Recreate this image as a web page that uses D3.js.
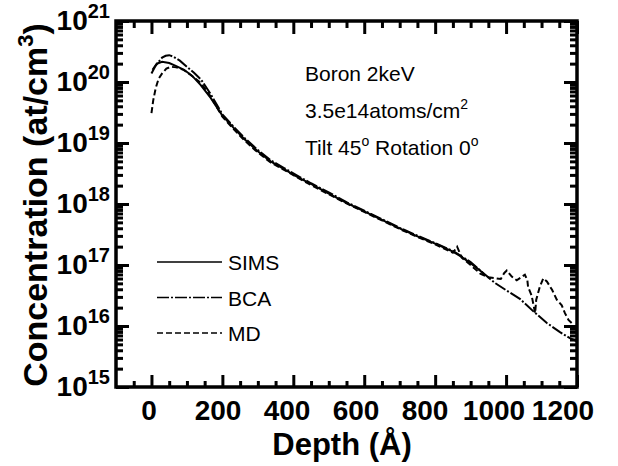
<!DOCTYPE html>
<html lang="en">
<head>
<meta charset="UTF-8">
<title>boron profile</title>
<script src="https://d3js.org/d3.v7.min.js"></script>
<style>
    body { margin: 0; background: #fff; }
    text { font-family: "Liberation Sans", Arial, sans-serif; fill: #000; }
    .bold { font-weight: bold; }
</style>
</head>
<body>
<svg id="chart" width="618" height="466"></svg>
<script>
    // depth (Angstrom) and log10 concentration
    const simsDepth = [3, 15, 30, 50, 70, 92, 115, 139, 167, 200, 233, 261, 299, 336, 374, 416, 450, 500, 550, 600, 650, 700, 750, 800, 850, 870, 900, 937];
    const simsLog   = [20.2, 20.3, 20.33, 20.31, 20.26, 20.2, 20.1, 19.95, 19.74, 19.45, 19.24, 19.07, 18.87, 18.7, 18.57, 18.43, 18.33, 18.17, 18.02, 17.88, 17.74, 17.6, 17.47, 17.35, 17.22, 17.15, 17.03, 16.86];

    const bcaDepth = [0, 10, 20, 30, 40, 50, 60, 80, 100, 120, 140, 167, 200, 233, 261, 299, 336, 374, 416, 450, 500, 550, 600, 650, 700, 750, 800, 850, 900, 937, 970, 1002, 1040, 1077, 1115, 1152, 1180, 1200];
    const bcaLog   = [20.14, 20.25, 20.33, 20.4, 20.43, 20.44, 20.42, 20.35, 20.25, 20.15, 20.04, 19.8, 19.47, 19.26, 19.09, 18.89, 18.72, 18.59, 18.45, 18.34, 18.19, 18.03, 17.89, 17.75, 17.61, 17.48, 17.36, 17.23, 17.05, 16.86, 16.7, 16.58, 16.44, 16.24, 16.05, 15.9, 15.8, 15.75];

    const mdDepth = [0, 5, 12, 20, 30, 42, 55, 70, 90, 110, 140, 167, 200, 233, 261, 299, 336, 374, 416, 450, 500, 550, 600, 650, 700, 750, 800, 850, 862, 875, 900, 927, 950, 985, 995, 1002, 1016, 1030, 1053, 1060, 1062, 1072, 1082, 1085, 1095, 1105, 1115, 1130, 1143, 1157, 1166, 1176, 1185];
    const mdLog   = [19.49, 19.7, 19.9, 20.05, 20.14, 20.22, 20.25, 20.24, 20.2, 20.12, 19.98, 19.76, 19.43, 19.22, 19.05, 18.85, 18.68, 18.56, 18.42, 18.31, 18.16, 18.01, 17.87, 17.73, 17.59, 17.46, 17.34, 17.2, 17.3, 17.12, 17.0, 16.86, 16.8, 16.77, 16.87, 16.91, 16.81, 16.75, 16.84, 16.75, 16.64, 16.5, 16.21, 16.43, 16.64, 16.78, 16.73, 16.59, 16.43, 16.34, 16.21, 16.1, 16.05];

    const depthTicks = [0, 200, 400, 600, 800, 1000, 1200];
    const decades = [15, 16, 17, 18, 19, 20, 21];
    const seriesNames = ["SIMS", "BCA", "MD"];
    const infoLines = ["Boron 2keV", "3.5e14atoms/cm", "Tilt 45"];

    const svg = d3.select("#chart");
    const pLeft = 116, pRight = 577, pTop = 21, pBottom = 387;

    const x = d3.scaleLinear().domain([-100, 1200]).range([pLeft, pRight]);
    const y = d3.scaleLog().domain([1e15, 1e21]).range([pBottom, pTop]);
    // tick labels in the original sit a bit to the left of their ticks
    const xLab = d3.scaleLinear().domain([0, 1200]).range([149, 563]);

    const minorX = d3.range(-50, 1200, 50).filter(d => d % 200 !== 0);
    const majorY = decades.map(e => Math.pow(10, e));
    const minorY = [];
    decades.slice(0, -1).forEach(e => {
        for (let k = 2; k < 10; k++) minorY.push(k * Math.pow(10, e));
    });

    function tickGroup(scale, values, size, orient, tr) {
        const ax = orient(scale).tickValues(values).tickSize(size).tickFormat("");
        const g = svg.append("g").attr("transform", tr).call(ax);
        g.select(".domain").remove();
        g.selectAll("line").attr("stroke", "#000").attr("stroke-width", 3);
    }
    // ticks point inwards on all four sides
    tickGroup(x, depthTicks, -12, d3.axisBottom, `translate(0,${pBottom})`);
    tickGroup(x, minorX, -6, d3.axisBottom, `translate(0,${pBottom})`);
    tickGroup(x, depthTicks, -13, d3.axisTop, `translate(0,${pTop})`);
    tickGroup(x, minorX, -7, d3.axisTop, `translate(0,${pTop})`);
    tickGroup(y, majorY, -13, d3.axisLeft, `translate(${pLeft},0)`);
    tickGroup(y, minorY, -7, d3.axisLeft, `translate(${pLeft},0)`);
    tickGroup(y, majorY, -13, d3.axisRight, `translate(${pRight},0)`);
    tickGroup(y, minorY, -7, d3.axisRight, `translate(${pRight},0)`);

    svg.append("rect")
        .attr("x", pLeft).attr("y", pTop)
        .attr("width", pRight - pLeft).attr("height", pBottom - pTop)
        .attr("fill", "none").attr("stroke", "#000").attr("stroke-width", 3.5);

    // x tick labels
    svg.append("g").selectAll("text").data(depthTicks).join("text")
        .attr("class", "bold")
        .attr("x", d => xLab(d)).attr("y", 420)
        .attr("text-anchor", "middle")
        .attr("font-size", 28)
        .text(d => d);

    // y tick labels 10^n
    const yl = svg.append("g").selectAll("text").data(decades).join("text")
        .attr("class", "bold")
        .attr("x", 110).attr("y", d => y(Math.pow(10, d)) + 9)
        .attr("text-anchor", "end")
        .attr("font-size", 28);
    yl.append("tspan").text("10");
    yl.append("tspan").attr("font-size", 20).attr("dy", -12).text(d => d);

    // axis titles
    svg.append("text").attr("class", "bold")
        .attr("x", 342).attr("y", 455)
        .attr("text-anchor", "middle").attr("font-size", 31)
        .text("Depth (Å)");

    const yt = svg.append("text").attr("class", "bold")
        .attr("transform", `translate(47,${(pTop + pBottom) / 2 + 1}) rotate(-90)`)
        .attr("text-anchor", "middle").attr("font-size", 34);
    yt.append("tspan").text("Concentration (at/cm");
    yt.append("tspan").attr("font-size", 22).attr("dy", -14).text("3");
    yt.append("tspan").attr("dy", 14).text(")");

    // curves
    const line = d3.line().x(d => x(d[0])).y(d => y(Math.pow(10, d[1])));
    const dashes = ["", "12,2,2,2", "6,3"];
    const series = [
        d3.zip(simsDepth, simsLog),
        d3.zip(bcaDepth, bcaLog),
        d3.zip(mdDepth, mdLog)
    ];
    svg.append("g").selectAll("path").data(series).join("path")
        .attr("d", line)
        .attr("fill", "none").attr("stroke", "#000").attr("stroke-width", 2)
        .attr("stroke-dasharray", (d, i) => dashes[i]);

    // legend
    const leg = svg.append("g").selectAll("g").data(seriesNames).join("g")
        .attr("transform", (d, i) => `translate(157,${262 + i * 35.5})`);
    leg.append("line").attr("x1", 0).attr("x2", 65).attr("y1", 0).attr("y2", 0)
        .attr("stroke", "#000").attr("stroke-width", 1.5)
        .attr("stroke-dasharray", (d, i) => dashes[i]);
    leg.append("text").attr("x", 71).attr("y", 8).attr("font-size", 21).text(d => d);

    // annotation
    const info = svg.append("g").selectAll("text").data(infoLines).join("text")
        .attr("x", 305).attr("y", (d, i) => 81 + i * 37)
        .attr("font-size", 21);
    info.append("tspan").text(d => d);
    info.filter((d, i) => i === 1).append("tspan")
        .attr("font-size", 14).attr("dy", -9).text("2");
    const tilt = info.filter((d, i) => i === 2);
    tilt.append("tspan").attr("font-size", 14).attr("dy", -9).text("o");
    tilt.append("tspan").attr("dy", 9).text(" Rotation 0");
    tilt.append("tspan").attr("font-size", 14).attr("dy", -9).text("o");
</script>
</body>
</html>
